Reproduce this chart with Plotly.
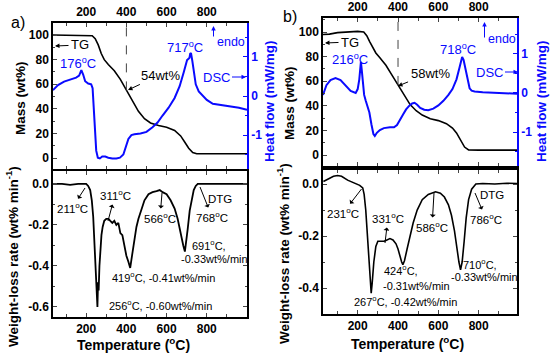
import numpy as np
import plotly.graph_objects as go

W, H = 550, 356
FONT = "Liberation Sans"
BLUE = "#0a0aff"

# ---------------- data: panel a ----------------
tg_a_T = [35, 100, 200, 230, 245, 260, 275, 290, 310, 340, 370, 400, 430, 460, 490, 520, 560, 600,
          640, 670, 690, 710, 730, 750, 800, 900, 1000]
tg_a_m = [100, 100, 100, 99.5, 97, 92, 85, 80, 76, 71, 64, 55, 46, 38, 32, 28.5, 26.5, 25,
          22.5, 18, 13, 8, 4.5, 3.5, 3.5, 3.5, 3.5]

dsc_a_T = [35, 60, 90, 120, 150, 165, 176, 185, 195, 210, 225, 232, 238, 244, 250, 258, 268, 280, 295,
           310, 330, 350, 368, 385, 398, 410, 425, 440, 470, 500, 530, 555, 580, 610, 640, 665, 685,
           695, 702, 708, 714, 718, 722, 728, 735, 745, 760, 780, 800, 830, 870, 920, 960, 1000]
dsc_a_hf = [0.15, 0.28, 0.37, 0.42, 0.47, 0.52, 0.66, 0.55, 0.38, 0.32, 0.30, 0.2, -0.3, -0.9, -1.4,
            -1.58, -1.6, -1.55, -1.55, -1.58, -1.6, -1.6, -1.58, -1.5, -1.3, -1.1, -1.0, -0.98, -0.96,
            -0.92, -0.8, -0.68, -0.5, -0.3, -0.05, 0.25, 0.6, 0.8, 0.92, 0.95, 0.98, 1.1, 1.08, 0.9,
            0.6, 0.3, 0.12, 0.0, -0.1, -0.2, -0.23, -0.26, -0.3, -0.35]

dtg_a_T = [35, 80, 120, 160, 200, 210, 220, 228, 235, 240, 245, 250, 253, 256, 259, 262, 266, 270, 276,
           282, 290, 300, 311, 320, 330, 340, 350, 360, 370, 380, 390, 400, 410, 419, 425, 432, 440,
           450, 460, 475, 490, 510, 530, 550, 566, 580, 600, 620, 640, 655, 665, 675, 683, 691, 697,
           705, 715, 725, 735, 745, 755, 768, 800, 850, 900, 950, 1000]
dtg_a_v = [0.0, 0.0, -0.005, 0.0, 0.0, -0.01, -0.03, -0.08, -0.16, -0.25, -0.36, -0.45, -0.50, -0.60,
           -0.48, -0.52, -0.40, -0.33, -0.25, -0.21, -0.18, -0.17, -0.17, -0.18, -0.19, -0.18, -0.2,
           -0.19, -0.24, -0.25, -0.3, -0.35, -0.38, -0.41, -0.37, -0.32, -0.27, -0.21, -0.17, -0.12,
           -0.08, -0.05, -0.04, -0.035, -0.03, -0.04, -0.05, -0.08, -0.12, -0.17, -0.22, -0.26, -0.30,
           -0.33, -0.29, -0.22, -0.13, -0.07, -0.03, -0.01, 0.0, 0.0, 0.0, 0.0, 0.0, 0.0, 0.0]

# ---------------- data: panel b ----------------
tg_b_T = [28, 60, 100, 150, 200, 230, 245, 260, 275, 290, 310, 340, 370, 400, 430, 460, 490, 520, 560,
          600, 640, 670, 690, 710, 730, 750, 770, 800, 900, 990]
tg_b_m = [98, 98.3, 99.5, 100.2, 100.5, 100, 97, 92, 87, 83, 79, 73, 65, 57, 48.5, 41, 36, 32.5, 29.5,
          28, 25.5, 22, 18, 12, 6.5, 4.2, 4, 4, 4, 4]

dsc_b_T = [28, 45, 65, 90, 115, 140, 165, 190, 200, 208, 213, 216, 220, 226, 232, 240, 248, 258, 268,
           278, 285, 295, 310, 330, 360, 380, 395, 410, 425, 440, 455, 470, 482, 495, 510, 530, 550,
           575, 600, 625, 650, 670, 690, 705, 712, 718, 725, 735, 745, 755, 765, 780, 820, 900, 990]
dsc_b_hf = [-0.05, 0.2, 0.33, 0.38, 0.33, 0.18, 0.05, 0.0, 0.1, 0.35, 0.65, 0.8, 0.6, 0.2, -0.05, -0.2,
            -0.35, -0.5, -0.8, -1.05, -1.1, -1.02, -0.95, -0.9, -0.88, -0.88, -0.82, -0.7, -0.55,
            -0.42, -0.33, -0.27, -0.25, -0.3, -0.38, -0.43, -0.44, -0.4, -0.32, -0.2, -0.05, 0.1, 0.35,
            0.65, 0.82, 0.92, 0.85, 0.6, 0.3, 0.12, 0.06, 0.04, 0.02, 0.0, -0.02]

dtg_b_T = [30, 55, 80, 100, 120, 150, 180, 210, 225, 232, 240, 248, 255, 262, 267, 272, 280, 290, 300,
           315, 331, 345, 360, 375, 390, 400, 410, 418, 424, 432, 445, 460, 475, 495, 520, 550, 586,
           610, 630, 650, 665, 680, 692, 702, 710, 718, 728, 738, 750, 765, 786, 820, 880, 940, 990]
dtg_b_v = [0.01, 0.02, 0.03, 0.033, 0.03, 0.015, 0.005, -0.005, -0.015, -0.04, -0.1, -0.2, -0.3, -0.39,
           -0.42, -0.38, -0.3, -0.24, -0.22, -0.22, -0.22, -0.215, -0.21, -0.215, -0.23, -0.25, -0.28,
           -0.30, -0.31, -0.295, -0.25, -0.2, -0.15, -0.1, -0.06, -0.04, -0.03, -0.035, -0.05, -0.08,
           -0.12, -0.18, -0.25, -0.3, -0.33, -0.3, -0.22, -0.13, -0.06, -0.02, 0.0, 0.002, 0.0, 0.003,
           0.002]

x_ticks = [200, 400, 600, 800]
mass_ticks = [0, 20, 40, 60, 80, 100]
hf_ticks = [-1, 0, 1]
hf_labels = ["-1", "0", "1"]
dtg_a_ticks = [0.0, -0.2, -0.4, -0.6]
dtg_a_labels = ["0.0", "-0.2", "-0.4", "-0.6"]
dtg_b_ticks = [0.0, -0.2, -0.4]
dtg_b_labels = ["0.0", "-0.2", "-0.4"]

# ---------------- layout geometry ----------------
def py(p):
    return 1 - p / H

XA = [53 / W, 247 / W]
XB = [323 / W, 517 / W]
YA_TOP = [py(169), py(23)]
YA_BOT = [py(317), py(171)]
YB_TOP = [py(166), py(18)]
YB_BOT = [py(314), py(170)]

fig = go.Figure()
fig.add_trace(go.Scatter(x=tg_a_T, y=tg_a_m, xaxis="x", yaxis="y", mode="lines",
                         line=dict(color="black", width=1.6)))
fig.add_trace(go.Scatter(x=dsc_a_T, y=dsc_a_hf, xaxis="x", yaxis="y2", mode="lines",
                         line=dict(color=BLUE, width=2)))
fig.add_trace(go.Scatter(x=dtg_a_T, y=dtg_a_v, xaxis="x2", yaxis="y3", mode="lines",
                         line=dict(color="black", width=1.8)))
fig.add_trace(go.Scatter(x=tg_b_T, y=tg_b_m, xaxis="x3", yaxis="y4", mode="lines",
                         line=dict(color="black", width=1.6)))
fig.add_trace(go.Scatter(x=dsc_b_T, y=dsc_b_hf, xaxis="x3", yaxis="y5", mode="lines",
                         line=dict(color=BLUE, width=2)))
fig.add_trace(go.Scatter(x=dtg_b_T, y=dtg_b_v, xaxis="x4", yaxis="y6", mode="lines",
                         line=dict(color="black", width=1.6)))

tickfont = dict(family=FONT, size=12, color="black", weight="bold")
tickfont_b = dict(family=FONT, size=12, color=BLUE, weight="bold")


def xax(domain, anchor, rng, side, show_labels=True):
    return dict(domain=domain, anchor=anchor, range=rng, side=side, tickvals=x_ticks,
                showticklabels=show_labels, ticks="inside", ticklen=4, tickwidth=1.2,
                minor=dict(tickvals=[100, 300, 500, 700, 900], ticks="inside", ticklen=3),
                showline=True, linecolor="black", linewidth=1.5, mirror="ticks",
                showgrid=False, zeroline=False, tickfont=tickfont)


def yax(domain, anchor, rng, vals, labels, mirror, minor_vals):
    return dict(domain=domain, anchor=anchor, range=rng, tickvals=vals, ticktext=labels,
                ticks="inside", ticklen=4, tickwidth=1.2,
                minor=dict(tickvals=minor_vals, ticks="inside", ticklen=2.5),
                showline=True, linecolor="black", linewidth=1.5, mirror=mirror,
                showgrid=False, zeroline=False, tickfont=tickfont)


def hfax(over, anchor, rng):
    return dict(overlaying=over, anchor=anchor, side="right", range=rng, tickvals=hf_ticks,
                ticktext=hf_labels, ticks="inside", ticklen=4, tickwidth=1.2, tickcolor=BLUE,
                minor=dict(tickvals=[-1.5, -0.5, 0.5, 1.5], ticks="inside", ticklen=2.5,
                           tickcolor=BLUE),
                showline=True, linecolor=BLUE, linewidth=1.5, showgrid=False, zeroline=False,
                tickfont=tickfont_b)


mass_minor = [-10, 10, 30, 50, 70, 90, 110]
fig.update_layout(
    width=W, height=H, autosize=False, showlegend=False,
    margin=dict(l=0, r=0, t=0, b=0),
    paper_bgcolor="white", plot_bgcolor="rgba(0,0,0,0)",
    xaxis=xax(XA, "y", [35, 1000], "top"),
    yaxis=yax(YA_TOP, "x", [-8.9, 109.8], mass_ticks, [str(v) for v in mass_ticks], False,
              mass_minor),
    yaxis2=hfax("y", "x", [-1.87, 1.87]),
    xaxis2=xax(XA, "y3", [35, 1000], "bottom"),
    yaxis3=yax(YA_BOT, "x2", [-0.649, 0.063], dtg_a_ticks, dtg_a_labels, "ticks",
               [-0.1, -0.3, -0.5]),
    xaxis3=xax(XB, "y4", [28, 990], "top"),
    yaxis4=yax(YB_TOP, "x3", [-8.9, 111.4], mass_ticks, [str(v) for v in mass_ticks], False,
               mass_minor),
    yaxis5=hfax("y4", "x3", [-1.87, 1.92]),
    xaxis4=xax(XB, "y6", [28, 990], "bottom"),
    yaxis6=yax(YB_BOT, "x4", [-0.5, 0.054], dtg_b_ticks, dtg_b_labels, "ticks",
               [-0.1, -0.3]),
)

# dashed reference lines at 400 °C down to the TG curve
fig.add_shape(type="line", xref="x", yref="y", x0=400, x1=400,
              y0=float(np.interp(400, tg_a_T, tg_a_m)), y1=109.8,
              line=dict(color="#444", width=1, dash="dash"))
fig.add_shape(type="line", xref="x3", yref="y4", x0=400, x1=400,
              y0=float(np.interp(400, tg_b_T, tg_b_m)), y1=111.4,
              line=dict(color="#444", width=1, dash="dash"))

ann = []


def _font(size, color, bold):
    return dict(family=FONT, size=size, color=color, weight="bold" if bold else "normal")


def text(xp, ypx, s, size=11.5, color="black", bold=False, xanchor="center", angle=0):
    ann.append(dict(x=xp / W, y=py(ypx), xref="paper", yref="paper", text=s, showarrow=False,
                    xanchor=xanchor, yanchor="middle", textangle=angle,
                    font=_font(size, color, bold)))


def label_arrow(s, tx, ty, px_, py_, size=11.5, color="black", head_at_text=False):
    """Text centred at (tx, ty) with an arrow to the point (px_, py_), in pixels."""
    ann.append(dict(x=px_ / W, y=py(py_), xref="paper", yref="paper", text=s, showarrow=True,
                    ax=tx - px_, ay=ty - py_, arrowhead=2, arrowsize=0.9, arrowwidth=1,
                    arrowside="start" if head_at_text else "end",
                    arrowcolor=color, standoff=0, startstandoff=1,
                    font=_font(size, color, False)))


def arrow(hx, hy, tx, ty, color="black"):
    ann.append(dict(x=hx / W, y=py(hy), xref="paper", yref="paper", text="", showarrow=True,
                    ax=tx - hx, ay=ty - hy, arrowhead=2, arrowsize=0.9, arrowwidth=1,
                    arrowcolor=color, standoff=0, startstandoff=0))


DEG = "<sup>o</sup>C"

# panel labels
text(18, 22, "a)", size=16)
text(290, 16, "b)", size=16)

# axis titles
text(20, 98, "Mass (wt%)", 13.5, bold=True, angle=-90)
text(289, 103, "Mass (wt%)", 13.5, bold=True, angle=-90)
text(269, 101, "Heat flow (mW/mg)", 13.5, color=BLUE, bold=True, angle=-90)
text(541, 101, "Heat flow (mW/mg)", 13.5, color=BLUE, bold=True, angle=-90)
text(12, 257, "Weight-loss rate (wt% min<sup>-1</sup>)", 13.5, bold=True, angle=-90)
text(283, 254, "Weight-loss rate (wt% min<sup>-1</sup>)", 13.5, bold=True, angle=-90)
text(133, 344, "Temperature (" + DEG + ")", 14, bold=True)
text(407, 343, "Temperature (" + DEG + ")", 14, bold=True)

# panel a top
label_arrow("TG", 80, 45, 55, 46, 13)
text(78, 63, "176" + DEG, 13, color=BLUE)
text(185, 47, "717" + DEG, 13, color=BLUE)
arrow(213.5, 26, 213.5, 38, BLUE)
text(215, 42, "endo", 12.5, color=BLUE, xanchor="left")
label_arrow("DSC", 216, 77, 246, 77, 13, color=BLUE)
label_arrow("54wt%", 160, 75, 128, 90, 13)

# panel b top
label_arrow("TG", 350, 42, 325, 43, 13)
text(350, 59, "216" + DEG, 13, color=BLUE)
text(458, 49, "718" + DEG, 13, color=BLUE)
arrow(484.5, 22, 484.5, 39, BLUE)
text(486, 39, "endo", 12.5, color=BLUE, xanchor="left")
label_arrow("DSC", 489, 72, 518, 72, 13, color=BLUE)
label_arrow("58wt%", 430, 73, 398, 86, 13)

# panel a bottom
label_arrow("211" + DEG, 72, 208, 85, 188, head_at_text=True)
label_arrow("311" + DEG, 115, 195, 108, 221, head_at_text=True)
label_arrow("566" + DEG, 160, 218, 162, 193, head_at_text=True)
label_arrow("768" + DEG, 212, 217, 200, 187, head_at_text=True)
text(220, 199, "DTG")
text(209, 245, "691" + DEG + ",", 11)
text(214, 259, "-0.33wt%/min", 11)
text(163, 277, "419" + DEG + ", -0.41wt%/min", 11)
text(160, 305, "256" + DEG + ", -0.60wt%/min", 11)

# panel b bottom
label_arrow("231" + DEG, 343, 213, 361.5, 189, head_at_text=True)
label_arrow("331" + DEG, 388, 218, 385, 243, head_at_text=True)
label_arrow("586" + DEG, 432, 227, 434, 193, head_at_text=True)
label_arrow("786" + DEG, 486, 219, 475, 193, head_at_text=True)
text(492, 195, "DTG")
text(480, 264, "710" + DEG + ",", 11)
text(484, 277, "-0.33wt%/min", 11)
text(401, 270, "424" + DEG + ",", 11)
text(416, 286, "-0.31wt%/min", 11)
text(405, 301, "267" + DEG + ", -0.42wt%/min", 11)

fig.update_layout(annotations=ann)
fig.write_html("out.html", config={"displayModeBar": False},
               post_script="document.body.style.margin='0';document.body.style.overflow='hidden';")
